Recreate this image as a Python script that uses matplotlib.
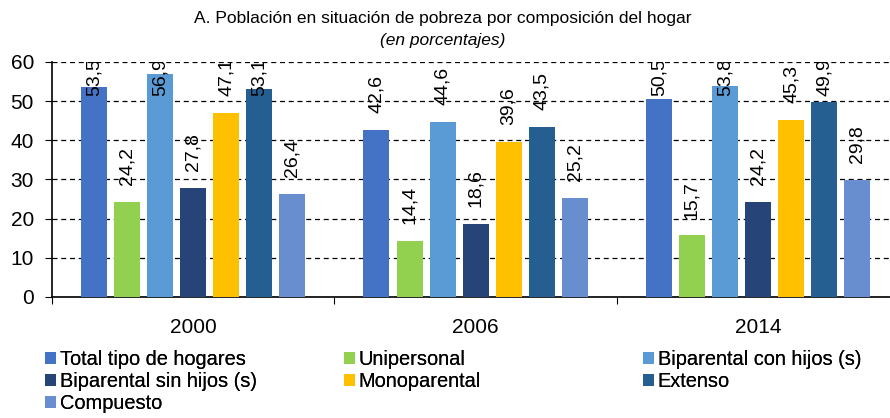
import matplotlib.pyplot as plt
import numpy as np

plt.rcParams['font.family'] = ['Liberation Sans', 'DejaVu Sans']

years = ["2000", "2006", "2014"]
series = ["Total tipo de hogares", "Unipersonal", "Biparental con hijos (s)",
          "Biparental sin hijos (s)", "Monoparental", "Extenso", "Compuesto"]
total = [53.5, 42.6, 50.5]
unipersonal = [24.2, 14.4, 15.7]
biparental_con = [56.9, 44.6, 53.8]
biparental_sin = [27.8, 18.6, 24.2]
monoparental = [47.1, 39.6, 45.3]
extenso = [53.1, 43.5, 49.9]
compuesto = [26.4, 25.2, 29.8]
values = [total, unipersonal, biparental_con, biparental_sin, monoparental, extenso, compuesto]
colors = ['#4472C4', '#92D050', '#5B9BD5', '#264478', '#FFC000', '#255E91', '#698ED0']

fig = plt.figure(figsize=(8.9, 4.18), dpi=100)
ax = fig.add_axes([0.0584, 0.2895, 0.952, 0.5622])

x = np.arange(len(years))
step = 0.117
width = 0.092
bars = []
for i, vals in enumerate(values):
    pos = x + (i - 3) * step
    b = ax.bar(pos, vals, width, color=colors[i], label=series[i], zorder=3)
    bars.append(b)
    for px, v in zip(pos, vals):
        # labels that would run past the top get pushed down, the rest is clipped
        y = min(v + 4.3, 51.2)
        t = ax.text(px, y, f"{v:.1f}".replace(".", ","), rotation=90,
                    ha='center', va='bottom', fontsize=14, zorder=4)
        t.set_clip_on(True)

ax.set_xlim(-0.5, 2.5)
ax.set_ylim(0, 60)
ax.set_yticks(range(0, 61, 10))
ax.tick_params(axis='y', labelsize=15, length=5, direction='out', pad=8)
ax.yaxis.grid(True, linestyle=(0, (4, 3)), color='black', linewidth=0.9, zorder=0)
ax.set_xticks([-0.5, 0.5, 1.5, 2.5])
ax.set_xticklabels([])
ax.set_xticks(x, minor=True)
ax.set_xticklabels(years, minor=True)
ax.tick_params(axis='x', which='major', length=5, direction='out')
ax.tick_params(axis='x', which='minor', length=0, labelsize=15, pad=15)
ax.spines['top'].set_visible(False)
ax.spines['right'].set_visible(False)
for s in ['left', 'bottom']:
    ax.spines[s].set_linewidth(1.2)

fig.text(0.4975, 0.955, "A. Población en situación de pobreza por composición del hogar",
         ha='center', va='center', fontsize=12.5)
fig.text(0.4975, 0.903, "(en porcentajes)", ha='center', va='center',
         fontsize=12.5, style='italic')

# legend columns placed one by one, like the original
cols = [[0, 3, 6], [1, 4], [2, 5]]
col_x = [0.051, 0.386, 0.722]
for xs, idx in zip(col_x, cols):
    leg = fig.legend([bars[k] for k in idx], [series[k] for k in idx],
                     loc='upper left', bbox_to_anchor=(xs, 0.162), ncol=1,
                     frameon=False, fontsize=14.4, handlelength=0.55,
                     handleheight=0.55, handletextpad=0.2, labelspacing=0.15,
                     borderaxespad=0, borderpad=0)
    fig.add_artist(leg)

fig.savefig("out.png", dpi=100)
